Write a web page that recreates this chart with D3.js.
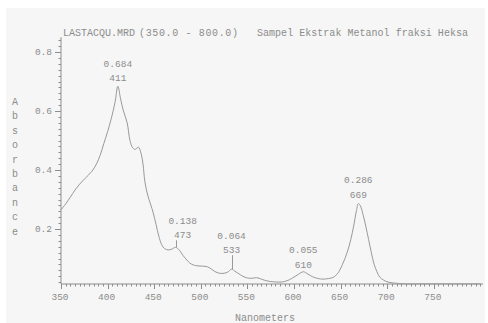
<!DOCTYPE html>
<html><head><meta charset="utf-8">
<script src="https://cdn.jsdelivr.net/npm/d3@7"></script>
<style>
html,body{margin:0;padding:0;background:#fff;}
svg{display:block;}
text{font-family:"Liberation Mono","Courier New",Cousine,monospace;fill:#8c8c8c;}
</style></head>
<body>
<svg id="c" width="488" height="323"></svg>
<script>
// ---- data ----
const wavelengths = [350,355,360,365,370,376,383,388,392,396,400,404,408,411,414,417,421,424,427,430,433,436,438,440,443,446,449,452,455,458,461,465,469,473,477,481,485,488,492,497,502,507,511,515,520,525,529,533,536,540,545,550,555,560,565,571,578,585,590,595,600,605,610,615,620,626,631,637,642,647,652,657,661,664,667,669,671,674,677,680,683,686,689,692,696,701,710,720,740,760,780,800];
const absorbance  = [0.265,0.285,0.308,0.332,0.352,0.372,0.395,0.42,0.45,0.49,0.53,0.575,0.63,0.684,0.64,0.6,0.56,0.5,0.475,0.47,0.478,0.455,0.42,0.36,0.315,0.285,0.254,0.215,0.175,0.147,0.134,0.129,0.132,0.138,0.128,0.11,0.095,0.085,0.078,0.075,0.074,0.072,0.065,0.056,0.05,0.05,0.054,0.064,0.058,0.05,0.04,0.034,0.033,0.035,0.03,0.024,0.021,0.02,0.022,0.028,0.037,0.047,0.055,0.047,0.038,0.032,0.03,0.032,0.036,0.05,0.08,0.12,0.165,0.21,0.262,0.286,0.28,0.25,0.21,0.165,0.12,0.08,0.055,0.037,0.027,0.02,0.016,0.014,0.014,0.014,0.014,0.014];
const peakWavelengths = [411,473,533,610,669];
const peakValues = ["0.684","0.138","0.064","0.055","0.286"];
const xTickLabels = [350,400,450,500,550,600,650,700,750];
const yTickLabels = [0.2,0.4,0.6,0.8];
const titleParts = ["LASTACQU.MRD","(350.0 - 800.0)","Sampel Ekstrak Metanol fraksi Heksa"];
const xTitle = "Nanometers";
const yTitle = "Absorbance";

// ---- layout ----
const svg = d3.select("#c");
const grey = "#8d8d8d";
svg.append("rect").attr("x",6).attr("y",8).attr("width",479).attr("height",315).attr("fill","#f6f6f6");

const x = d3.scaleLinear().domain([350,800]).range([61,480.4]);
const y = d3.scaleLinear().domain([0,0.8]).range([288,52]);
const yMin = 0.0136, yMax = 0.85;
const axisY = y(yMin);

// title
const titleX = [63,139,257];
const titleW = [72,99,211];
titleParts.forEach((t,i)=>svg.append("text").attr("x",titleX[i]).attr("y",36).attr("font-size",10)
  .attr("textLength",titleW[i]).attr("lengthAdjust","spacing").text(t));

// y axis
svg.append("line").attr("x1",x(350)).attr("x2",x(350)).attr("y1",y(yMax)).attr("y2",axisY).attr("stroke",grey).attr("stroke-width",1);
const yMinor = d3.range(0.02,0.845,0.02);
svg.selectAll(".ymin").data(yMinor).join("line")
  .attr("x1",x(350)-2.5).attr("x2",x(350)).attr("y1",d=>Math.round(y(d))+0.5).attr("y2",d=>Math.round(y(d))+0.5)
  .attr("stroke",grey).attr("stroke-width",1);
svg.selectAll(".ymaj").data(yTickLabels).join("line")
  .attr("x1",x(350)-6).attr("x2",x(350)).attr("y1",d=>Math.round(y(d))+0.5).attr("y2",d=>Math.round(y(d))+0.5)
  .attr("stroke",grey).attr("stroke-width",1);
svg.selectAll(".ylab").data(yTickLabels).join("text")
  .attr("x",x(350)-9).attr("y",d=>y(d)+3).attr("text-anchor","end").attr("font-size",9.5)
  .text(d=>d.toFixed(1));

// x axis
svg.append("line").attr("x1",x(350)).attr("x2",483).attr("y1",axisY).attr("y2",axisY).attr("stroke",grey).attr("stroke-width",1);
const xMinor = d3.range(350,801,5);
svg.selectAll(".xmin").data(xMinor).join("line")
  .attr("x1",d=>Math.round(x(d))+0.5).attr("x2",d=>Math.round(x(d))+0.5).attr("y1",axisY).attr("y2",axisY+2.5)
  .attr("stroke",grey).attr("stroke-width",1);
svg.selectAll(".xmaj").data(xTickLabels).join("line")
  .attr("x1",d=>Math.round(x(d))+0.5).attr("x2",d=>Math.round(x(d))+0.5).attr("y1",axisY).attr("y2",axisY+5)
  .attr("stroke",grey).attr("stroke-width",1);
svg.selectAll(".xlab").data(xTickLabels).join("text")
  .attr("x",d=>x(d)-1).attr("y",300).attr("text-anchor","middle").attr("font-size",9.5)
  .text(d=>d);

// axis titles
svg.append("text").attr("x",265).attr("y",321).attr("text-anchor","middle").attr("font-size",10).text(xTitle);
yTitle.split("").forEach((ch,i)=>svg.append("text").attr("x",15).attr("y",105+i*14.4).attr("text-anchor","middle").attr("font-size",10).text(ch));

// curve
const pts = wavelengths.map((w,i)=>[w,absorbance[i]]);
svg.append("path").datum(pts)
  .attr("d",d3.line().x(d=>x(d[0])).y(d=>y(d[1])).curve(d3.curveCatmullRom.alpha(0.5)))
  .attr("fill","none").attr("stroke","#999").attr("stroke-width",1);

// peak labels
const labelShift = {473:7};
const labelGap = {411:5,473:9,533:16,610:4,669:6};
peakWavelengths.forEach((w,i)=>{
  const px = x(w), py = y(+peakValues[i]);
  const cx = px + (labelShift[w]||0);
  const gap = labelGap[w];
  svg.append("text").attr("x",cx).attr("y",py-gap).attr("text-anchor","middle").attr("font-size",9.5).text(w);
  svg.append("text").attr("x",cx).attr("y",py-gap-14.5).attr("text-anchor","middle").attr("font-size",9.5).text(peakValues[i]);
  if (gap>8) {
    svg.append("line").attr("x1",Math.round(px)+0.5).attr("x2",Math.round(px)+0.5).attr("y1",py-gap+2).attr("y2",py)
      .attr("stroke","#999").attr("stroke-width",1);
  }
});
</script>
</body></html>
